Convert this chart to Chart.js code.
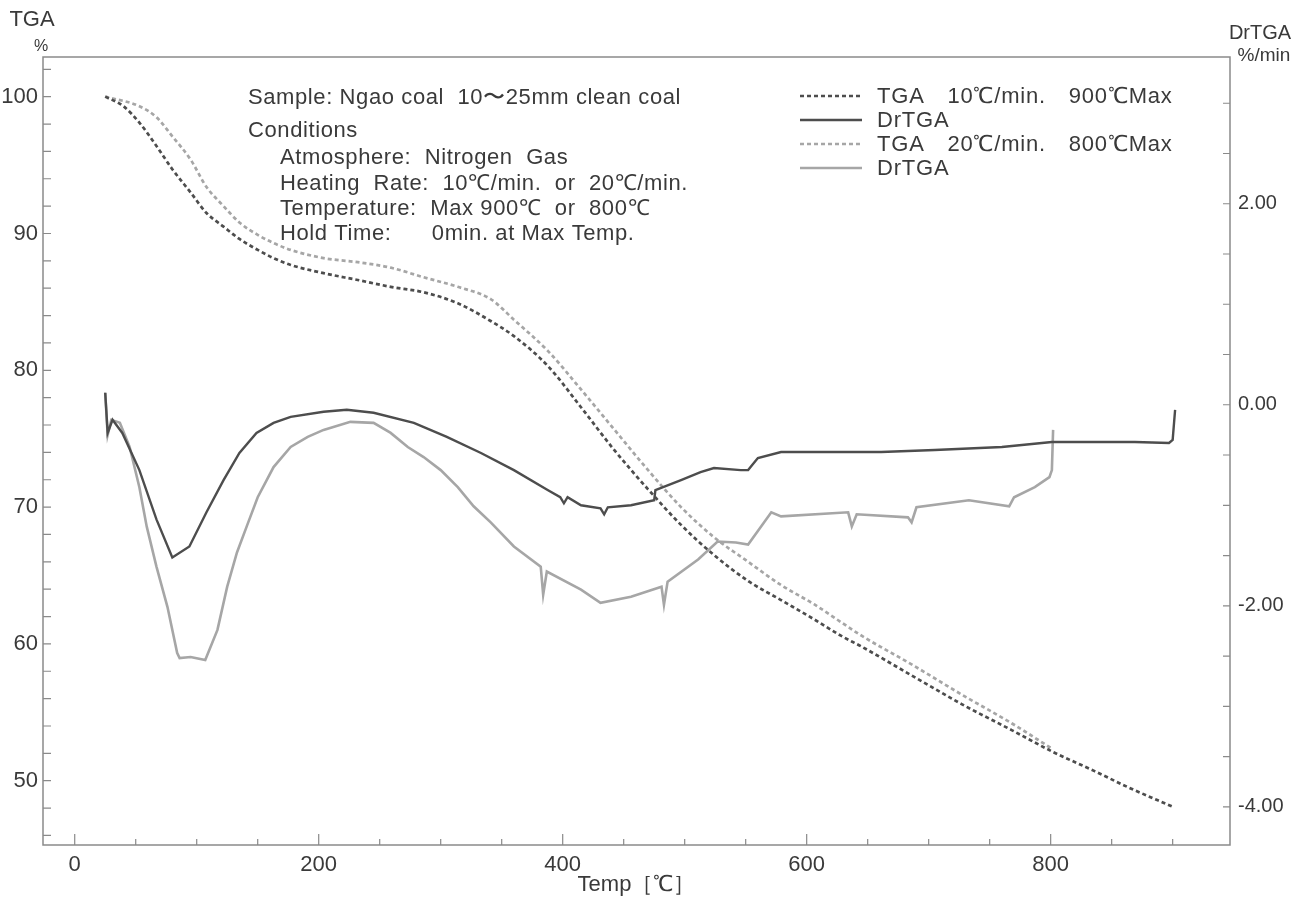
<!DOCTYPE html>
<html>
<head>
<meta charset="utf-8">
<script src="https://cdn.jsdelivr.net/npm/chart.js@4.4.1/dist/chart.umd.min.js"></script>
<style>
html, body { margin: 0; padding: 0; background: #fff; }
#wrap { width: 1311px; height: 899px; position: relative; }
</style>
</head>
<body>
<div id="wrap"><canvas id="chartTGA"></canvas></div>
<script>
// ===============================
// DATA
// ===============================
// TGA 10°C/min, 900°C max  (left axis, %)
const tga10Temp = [25, 40, 53, 67, 80, 95, 108, 122, 135, 150, 163, 177, 204, 232, 259, 286, 314, 341, 360, 388, 415, 442, 470, 497, 524, 552, 579, 606, 628, 645, 686, 727, 768, 802, 836, 864, 900];
const tga10Val  = [100.0, 99.3, 98.1, 96.4, 94.7, 93.0, 91.5, 90.5, 89.6, 88.8, 88.2, 87.7, 87.1, 86.6, 86.1, 85.7, 84.9, 83.6, 82.5, 80.3, 77.3, 74.2, 71.3, 68.7, 66.5, 64.6, 63.2, 61.8, 60.6, 59.8, 57.7, 55.6, 53.7, 52.1, 50.7, 49.5, 48.1];

// DrTGA 10°C/min  (right axis, %/min)
const dr10Temp = [25, 27, 31, 39, 53, 67, 80, 94, 108, 122, 135, 149, 163, 177, 204, 223, 245, 278, 305, 333, 360, 388, 398, 401, 404, 415, 431, 434, 437, 456, 475, 476, 497, 513, 524, 546, 552, 556, 560, 579, 661, 705, 760, 801, 869, 897, 900, 902];
const dr10Val  = [0.12, -0.28, -0.15, -0.28, -0.65, -1.14, -1.52, -1.41, -1.07, -0.75, -0.48, -0.28, -0.18, -0.12, -0.07, -0.05, -0.08, -0.18, -0.32, -0.48, -0.65, -0.85, -0.92, -0.98, -0.92, -1.00, -1.03, -1.09, -1.02, -1.00, -0.95, -0.85, -0.75, -0.67, -0.63, -0.65, -0.65, -0.59, -0.53, -0.47, -0.47, -0.45, -0.42, -0.37, -0.37, -0.38, -0.35, -0.05];

// TGA 20°C/min, 800°C max  (left axis, %)
const tga20Temp = [25, 53, 67, 80, 95, 108, 122, 135, 150, 163, 177, 204, 232, 259, 286, 314, 341, 360, 388, 415, 442, 470, 497, 524, 552, 579, 606, 645, 686, 727, 768, 800];
const tga20Val  = [100.0, 99.3, 98.5, 97.1, 95.4, 93.4, 92.0, 90.8, 89.9, 89.3, 88.8, 88.2, 87.9, 87.5, 86.8, 86.1, 85.2, 83.7, 81.4, 78.6, 75.7, 72.7, 70.0, 67.8, 66.0, 64.3, 62.9, 60.6, 58.5, 56.3, 54.2, 52.4];

// DrTGA 20°C/min  (right axis, %/min)
const dr20Temp = [25, 27, 30, 37, 45, 53, 59, 67, 76, 84, 86, 95, 107, 117, 125, 133, 141, 150, 163, 177, 191, 204, 226, 245, 259, 273, 286, 300, 314, 327, 341, 360, 382, 384, 387, 415, 431, 456, 481, 483, 486, 511, 527, 542, 552, 571, 579, 634, 637, 641, 683, 686, 690, 733, 766, 770, 787, 799, 801, 802];
const dr20Val  = [0.12, -0.30, -0.15, -0.18, -0.42, -0.82, -1.21, -1.61, -2.01, -2.47, -2.52, -2.51, -2.54, -2.24, -1.81, -1.47, -1.21, -0.92, -0.62, -0.42, -0.32, -0.25, -0.17, -0.18, -0.28, -0.42, -0.52, -0.65, -0.82, -1.01, -1.17, -1.41, -1.61, -1.89, -1.66, -1.84, -1.97, -1.91, -1.81, -1.99, -1.76, -1.54, -1.36, -1.37, -1.39, -1.07, -1.11, -1.07, -1.21, -1.09, -1.12, -1.17, -1.02, -0.95, -1.01, -0.92, -0.82, -0.72, -0.65, -0.25];

// tick labels
const tempTicks = [0, 200, 400, 600, 800];
const tgaTicks = [50, 60, 70, 80, 90, 100];
const drTicks = [-4, -2, 0, 2];

const legendLabels = [
    "TGA　10℃/min.　900℃Max",
    "DrTGA",
    "TGA　20℃/min.　800℃Max",
    "DrTGA"
];

const infoLines = [
    "Sample: Ngao coal  10〜25mm clean coal",
    "Conditions",
    "Atmosphere:  Nitrogen  Gas",
    "Heating  Rate:  10℃/min.  or  20℃/min.",
    "Temperature:  Max 900℃  or  800℃",
    "Hold Time:      0min. at Max Temp."
];

// ===============================
// HELPERS
// ===============================
const zip = (xs, ys) => xs.map((x, i) => ({ x: x, y: ys[i] }));

const DARK = "#4d4d4d";
const LIGHT = "#a6a6a6";
const TEXT = "#3a3a3a";
const FRAME = "#8a8a8a";
const SANS = '"Liberation Sans", Arial, sans-serif';

// ===============================
// FRAME, TICKS, LABELS, LEGEND
// ===============================
const decor = {
    id: "decor",
    afterDraw(chart) {
        const ctx = chart.ctx;
        const a = chart.chartArea;
        const sx = chart.scales.x, sy = chart.scales.y, sy1 = chart.scales.y1;
        ctx.save();

        // frame
        ctx.strokeStyle = FRAME;
        ctx.lineWidth = 1.5;
        ctx.strokeRect(a.left, a.top, a.right - a.left, a.bottom - a.top);

        // ticks (inward)
        ctx.lineWidth = 1.2;
        ctx.beginPath();
        for (let v = 46; v <= 102; v += 2) {
            const py = sy.getPixelForValue(v);
            ctx.moveTo(a.left, py); ctx.lineTo(a.left + 8, py);
        }
        for (let v = -4; v <= 3; v += 0.5) {
            const py = sy1.getPixelForValue(v);
            ctx.moveTo(a.right, py); ctx.lineTo(a.right - 7, py);
        }
        for (let v = 0; v <= 900; v += 50) {
            const px = sx.getPixelForValue(v);
            const len = v % 200 === 0 ? 11 : 6;
            ctx.moveTo(px, a.bottom); ctx.lineTo(px, a.bottom - len);
        }
        ctx.stroke();

        // axis titles
        ctx.fillStyle = TEXT;
        ctx.textBaseline = "middle";
        ctx.textAlign = "center";
        ctx.font = "22px " + SANS;
        ctx.fillText("TGA", 32, 20);
        ctx.font = "16px " + SANS;
        ctx.fillText("%", 41, 47);
        ctx.font = "20px " + SANS;
        ctx.fillText("DrTGA", 1260, 33);
        ctx.font = "19px " + SANS;
        ctx.fillText("%/min", 1264, 56);

        // info block
        ctx.textAlign = "left";
        ctx.font = "22px " + SANS;
        ctx.letterSpacing = "0.6px";
        const infoX = [248, 248, 280, 280, 280, 280];
        const infoY = [98, 131, 158, 184, 209, 234];
        infoLines.forEach((t, i) => ctx.fillText(t, infoX[i], infoY[i]));

        // legend
        ctx.letterSpacing = "0.8px";
        const rowY = [96, 120, 144, 168];
        chart.data.datasets.forEach((ds, i) => {
            ctx.strokeStyle = ds.borderColor;
            ctx.lineWidth = ds.borderWidth;
            ctx.setLineDash(ds.borderDash || []);
            ctx.beginPath();
            ctx.moveTo(800, rowY[i]); ctx.lineTo(862, rowY[i]);
            ctx.stroke();
            ctx.setLineDash([]);
            ctx.fillStyle = TEXT;
            ctx.fillText(legendLabels[i], 877, rowY[i] + 1);
        });
        ctx.letterSpacing = "0px";

        ctx.restore();
    }
};

// ===============================
// CHART
// ===============================
new Chart(document.getElementById("chartTGA"), {
    type: "line",
    data: {
        datasets: [
            {
                label: legendLabels[0],
                data: zip(tga10Temp, tga10Val),
                yAxisID: "y",
                borderColor: DARK,
                borderWidth: 2.7,
                borderDash: [4, 3],
                cubicInterpolationMode: "monotone",
                pointRadius: 0
            },
            {
                label: legendLabels[1],
                data: zip(dr10Temp, dr10Val),
                yAxisID: "y1",
                borderColor: DARK,
                borderWidth: 2.4,
                tension: 0,
                pointRadius: 0
            },
            {
                label: legendLabels[2],
                data: zip(tga20Temp, tga20Val),
                yAxisID: "y",
                borderColor: LIGHT,
                borderWidth: 2.7,
                borderDash: [4, 3],
                cubicInterpolationMode: "monotone",
                pointRadius: 0
            },
            {
                label: legendLabels[3],
                data: zip(dr20Temp, dr20Val),
                yAxisID: "y1",
                borderColor: LIGHT,
                borderWidth: 2.6,
                tension: 0,
                pointRadius: 0
            }
        ]
    },
    options: {
        responsive: true,
        maintainAspectRatio: false,
        animation: false,
        devicePixelRatio: 1,
        layout: { padding: { top: 57, left: 0, right: 0, bottom: 0 } },
        plugins: { legend: { display: false }, tooltip: { enabled: false } },
        scales: {
            x: {
                type: "linear",
                position: "bottom",
                min: -26,
                max: 947,
                grid: { display: false, drawTicks: false },
                border: { display: false },
                afterBuildTicks: (s) => { s.ticks = tempTicks.map(v => ({ value: v })); },
                afterFit: (s) => { s.height = 54; },
                ticks: {
                    padding: 7,
                    color: TEXT,
                    maxRotation: 0,
                    font: { family: SANS, size: 22 }
                },
                title: {
                    display: true,
                    text: "Temp［℃］",
                    color: TEXT,
                    font: { family: SANS, size: 22 },
                    padding: { top: 0, bottom: 1 }
                }
            },
            y: {
                position: "left",
                min: 45.3,
                max: 102.9,
                grid: { display: false, drawTicks: false },
                border: { display: false },
                afterBuildTicks: (s) => { s.ticks = tgaTicks.map(v => ({ value: v })); },
                afterFit: (s) => { s.width = 43; },
                ticks: {
                    padding: 5,
                    color: TEXT,
                    font: { family: SANS, size: 22 }
                }
            },
            y1: {
                position: "right",
                min: -4.38,
                max: 3.46,
                grid: { display: false, drawTicks: false },
                border: { display: false },
                afterBuildTicks: (s) => { s.ticks = drTicks.map(v => ({ value: v })); },
                afterFit: (s) => { s.width = 81; },
                ticks: {
                    padding: 8,
                    color: TEXT,
                    font: { family: SANS, size: 20 },
                    callback: (v) => v.toFixed(2)
                }
            }
        }
    },
    plugins: [decor]
});
</script>
</body>
</html>
